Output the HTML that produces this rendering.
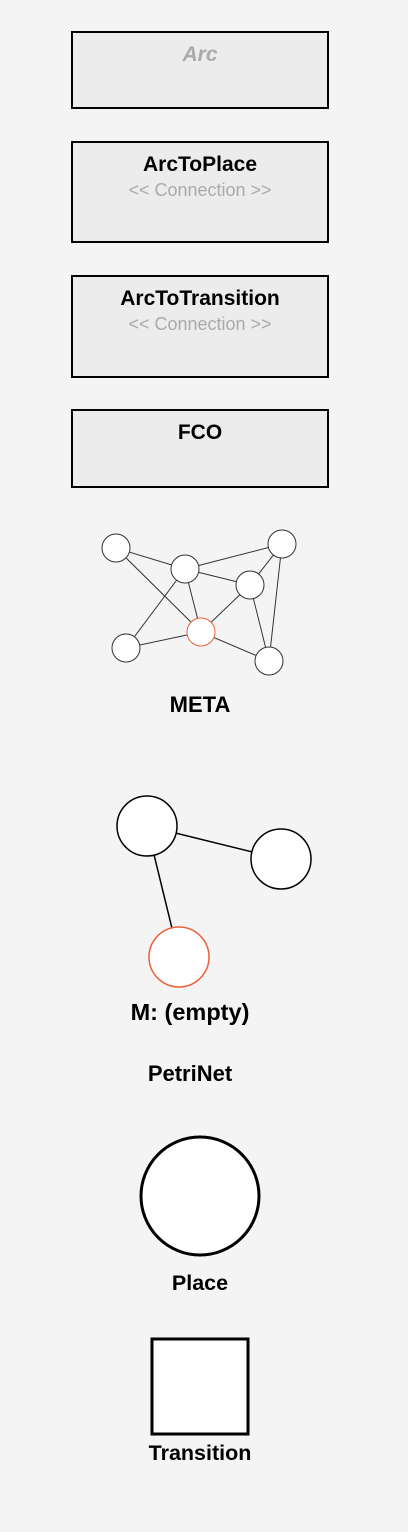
<!DOCTYPE html>
<html><head><style>
body{margin:0;background:#f4f4f4;width:408px;height:1532px;position:relative;font-family:"Liberation Sans",Arial,sans-serif;overflow:hidden}
.b{position:absolute;left:71px;width:254px;border:2px solid #000;background:#ececec;text-align:center}
.t{font-weight:bold;font-size:21px;margin-top:8px;line-height:24px}
.s{color:#aaa;font-size:18px;margin-top:2px;line-height:22px}
.l{position:absolute;left:-4px;width:408px;text-align:center;font-weight:bold;line-height:24px}
</style></head><body>
<div class="b" style="top:31px;height:74px"><div class="t" style="color:#aaa;font-style:italic;margin-top:10px">Arc</div></div>
<div class="b" style="top:141px;height:98px"><div class="t" style="margin-top:10px">ArcToPlace</div><div class="s">&lt;&lt; Connection &gt;&gt;</div></div>
<div class="b" style="top:275px;height:99px"><div class="t" style="margin-top:10px">ArcToTransition</div><div class="s">&lt;&lt; Connection &gt;&gt;</div></div>
<div class="b" style="top:409px;height:75px"><div class="t" style="margin-top:10px">FCO</div></div>
<svg width="408" height="1532" style="position:absolute;left:0;top:0">
<g stroke="#333" stroke-width="1">
<line x1="116" y1="548" x2="185" y2="569"/><line x1="116" y1="548" x2="201" y2="632"/>
<line x1="185" y1="569" x2="282" y2="544"/><line x1="185" y1="569" x2="250" y2="585"/>
<line x1="185" y1="569" x2="126" y2="648"/><line x1="185" y1="569" x2="201" y2="632"/>
<line x1="250" y1="585" x2="201" y2="632"/><line x1="250" y1="585" x2="282" y2="544"/>
<line x1="250" y1="585" x2="269" y2="661"/><line x1="282" y1="544" x2="269" y2="661"/>
<line x1="126" y1="648" x2="201" y2="632"/><line x1="201" y1="632" x2="269" y2="661"/>
</g>
<g fill="#fff" stroke="#333" stroke-width="1">
<circle cx="116" cy="548" r="14"/><circle cx="185" cy="569" r="14"/><circle cx="282" cy="544" r="14"/>
<circle cx="250" cy="585" r="14"/><circle cx="126" cy="648" r="14"/><circle cx="269" cy="661" r="14"/>
<circle cx="201" cy="632" r="14" stroke="#e8623a"/>
</g>
<g stroke="#000" stroke-width="1.5">
<line x1="147" y1="826" x2="281" y2="859"/><line x1="147" y1="826" x2="179" y2="957"/>
</g>
<circle cx="147" cy="826" r="30" fill="#fff" stroke="#000" stroke-width="1.5"/>
<circle cx="281" cy="859" r="30" fill="#fff" stroke="#000" stroke-width="1.5"/>
<circle cx="179" cy="957" r="30" fill="#fff" stroke="#e8623a" stroke-width="1.5"/>
<circle cx="200" cy="1196" r="59" fill="#fff" stroke="#000" stroke-width="3"/>
<rect x="152" y="1339" width="96" height="95" fill="#fff" stroke="#000" stroke-width="3"/>
</svg>
<div class="l" style="top:693px;font-size:22px">META</div>
<div class="l" style="top:1000px;font-size:23.5px;left:-14px">M: (empty)</div>
<div class="l" style="top:1062px;font-size:22px;left:-14px">PetriNet</div>
<div class="l" style="top:1271px;font-size:21.5px">Place</div>
<div class="l" style="top:1441px;font-size:21.5px">Transition</div>
</body></html>
